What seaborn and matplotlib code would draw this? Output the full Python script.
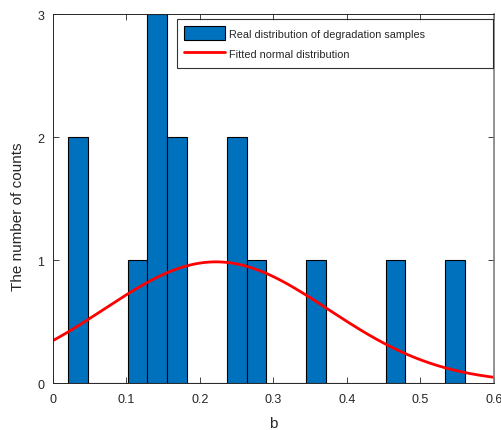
import numpy as np
import pandas as pd
import matplotlib
matplotlib.use("Agg")
import matplotlib.pyplot as plt
import seaborn as sns

# Histogram of the degradation parameter b: 20 equal bins between the sample min and max
b_min = 0.0208
b_max = 0.5606
n_bins = 20
bin_counts = [2, 0, 0, 1, 3, 2, 0, 0, 2, 1, 0, 0, 1, 0, 0, 0, 1, 0, 0, 1]

# Normal fit of the samples
fit_mu = 0.222
fit_sigma = 0.153

x_ticks = [0, 0.1, 0.2, 0.3, 0.4, 0.5, 0.6]
y_ticks = [0, 1, 2, 3]

sns.set_theme(style="white")
plt.rcParams["font.family"] = ["Liberation Sans", "DejaVu Sans"]

edges = np.linspace(b_min, b_max, n_bins + 1)
bin_width = edges[1] - edges[0]
centers = 0.5 * (edges[:-1] + edges[1:])
n_samples = sum(bin_counts)
hist_df = pd.DataFrame({"b": centers, "count": bin_counts})

fig = plt.figure(figsize=(5.02, 4.31), dpi=100)
ax = fig.add_axes([0.105, 0.109, 0.879, 0.856])

sns.histplot(data=hist_df, x="b", weights="count", bins=n_bins,
             binrange=(b_min, b_max), ax=ax,
             color="#0072BD", alpha=1.0, edgecolor="black", linewidth=0.8,
             label="Real distribution of degradation samples")

xs = np.linspace(0, 0.6, 300)
ys = n_samples * bin_width * np.exp(-0.5 * ((xs - fit_mu) / fit_sigma) ** 2) / (fit_sigma * np.sqrt(2 * np.pi))
sns.lineplot(x=xs, y=ys, ax=ax, color="red", linewidth=2.0,
             label="Fitted normal distribution")

ax.set_xlim(0, 0.6)
ax.set_ylim(0, 3)
ax.set_xticks(x_ticks)
ax.set_xticklabels(["0", "0.1", "0.2", "0.3", "0.4", "0.5", "0.6"])
ax.set_yticks(y_ticks)
ax.set_xlabel("b", fontsize=11, color="#262626", labelpad=8)
ax.set_ylabel("The number of counts", fontsize=11, color="#262626")
ax.yaxis.set_label_coords(-0.062, 0.453)

ax.tick_params(axis="both", which="both", direction="in", length=4, width=0.6,
               colors="#262626", labelsize=9, top=True, right=True,
               bottom=True, left=True)
ax.tick_params(axis="x", pad=7)
ax.tick_params(axis="y", pad=6)
for side in ["left", "bottom", "top"]:
    ax.spines[side].set_color("#262626")
    ax.spines[side].set_linewidth(0.7)
ax.spines["right"].set_color("#7f7f7f")
ax.spines["right"].set_linewidth(1.2)

# Bars first, then the fitted curve
handles, labels = ax.get_legend_handles_labels()
order = [labels.index("Real distribution of degradation samples"),
         labels.index("Fitted normal distribution")]
leg = ax.legend([handles[i] for i in order], [labels[i] for i in order],
                loc="upper left", bbox_to_anchor=(0.2817, 0.856, 0.7163, 0.1304),
                mode="expand", fontsize=7.8, frameon=True, fancybox=False,
                borderpad=0.65, handlelength=3.8, handleheight=1.6,
                handletextpad=0.35, labelspacing=0.6, borderaxespad=0.0)
leg.get_frame().set_edgecolor("black")
leg.get_frame().set_linewidth(0.8)

fig.savefig("out.png", dpi=100)
